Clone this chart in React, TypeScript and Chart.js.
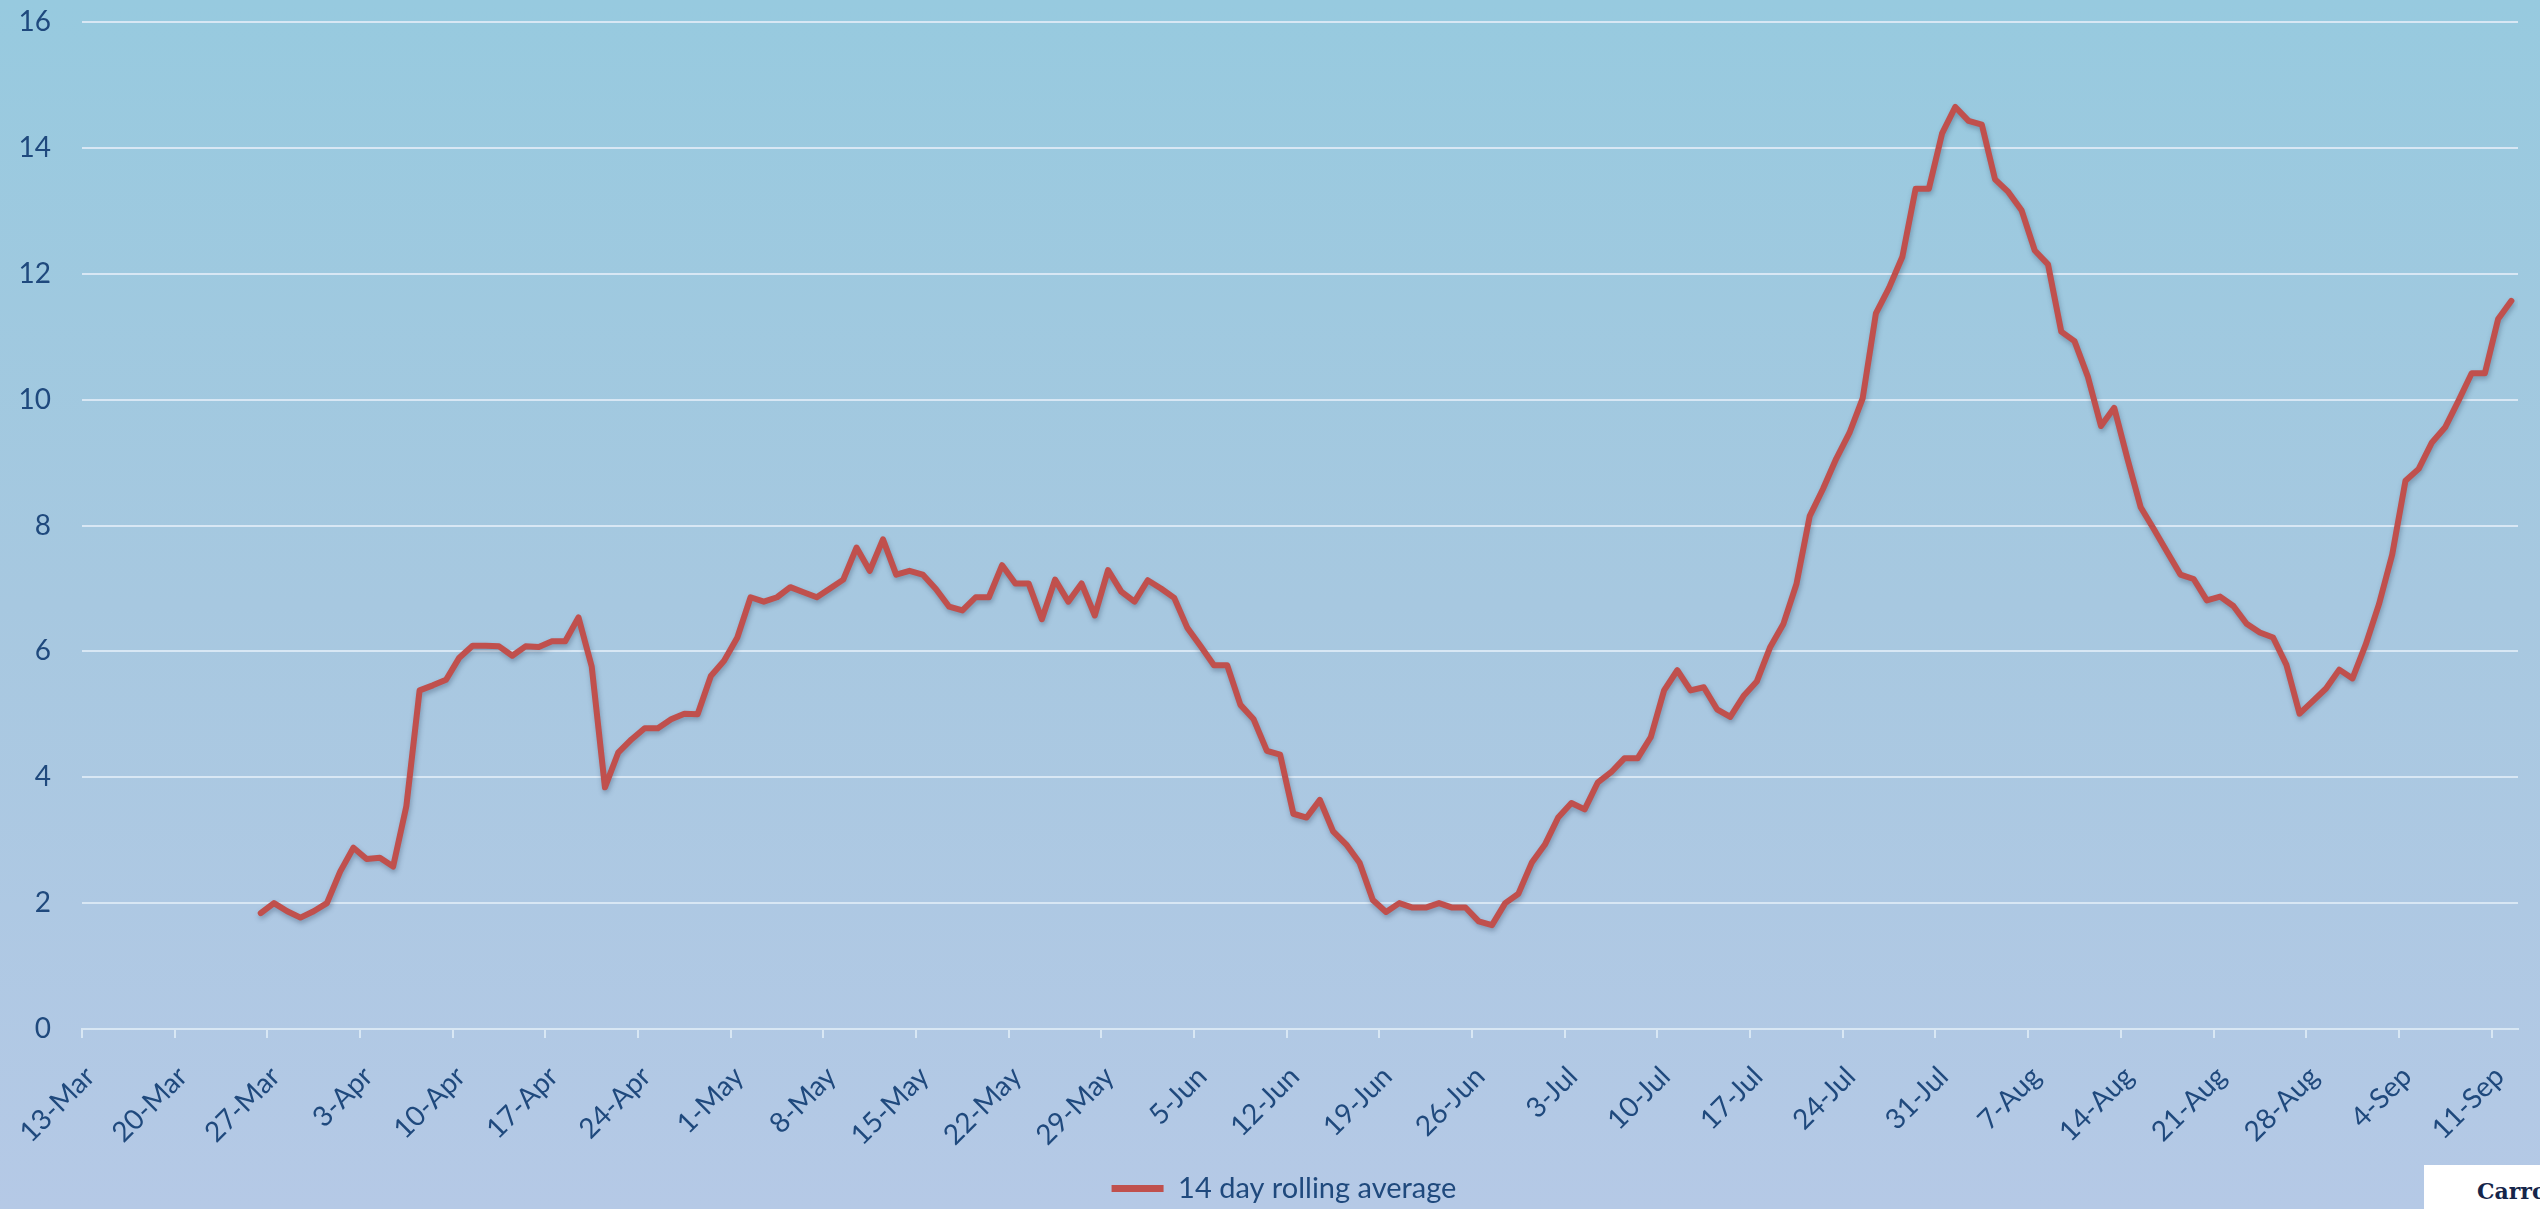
import React, { useEffect, useRef } from "react";
import { Chart, registerables } from "chart.js";

Chart.register(...registerables);

// Tick labels on the date axis (one every 7 days, starting 13-Mar)
const tickLabels = [
  "13-Mar", "20-Mar", "27-Mar", "3-Apr", "10-Apr", "17-Apr", "24-Apr",
  "1-May", "8-May", "15-May", "22-May", "29-May", "5-Jun", "12-Jun",
  "19-Jun", "26-Jun", "3-Jul", "10-Jul", "17-Jul", "24-Jul", "31-Jul",
  "7-Aug", "14-Aug", "21-Aug", "28-Aug", "4-Sep", "11-Sep",
];

// Days since 13-Mar of the first value (26-Mar) and axis end (13-Sep)
const firstDay = 13;
const axisEndDay = 184;

// 14 day rolling average, daily from 26-Mar to 12-Sep
const rollingAverage = [
  1.84, 2.0, 1.87, 1.77, 1.87, 2.0, 2.5, 2.88, 2.7, 2.72,
  2.58, 3.54, 5.38, 5.46, 5.55, 5.9, 6.09, 6.09, 6.08, 5.93,
  6.08, 6.07, 6.16, 6.16, 6.54, 5.76, 3.84, 4.39, 4.6, 4.78,
  4.78, 4.92, 5.01, 5.0, 5.61, 5.85, 6.22, 6.86, 6.79, 6.86,
  7.02, 6.94, 6.86, 7.0, 7.14, 7.65, 7.28, 7.78, 7.22, 7.28,
  7.22, 6.99, 6.71, 6.65, 6.86, 6.86, 7.37, 7.08, 7.08, 6.51,
  7.14, 6.79, 7.08, 6.57, 7.29, 6.95, 6.79, 7.13, 7.0, 6.85,
  6.37, 6.08, 5.78, 5.78, 5.15, 4.92, 4.42, 4.36, 3.42, 3.36,
  3.64, 3.14, 2.93, 2.64, 2.05, 1.86, 2.0, 1.93, 1.93, 2.0,
  1.93, 1.93, 1.71, 1.65, 2.0, 2.15, 2.64, 2.93, 3.36, 3.59,
  3.49, 3.92, 4.08, 4.3, 4.3, 4.64, 5.38, 5.7, 5.38, 5.43,
  5.08, 4.96, 5.29, 5.52, 6.06, 6.43, 7.07, 8.15, 8.58, 9.06,
  9.47, 10.02, 11.37, 11.78, 12.27, 13.35, 13.35, 14.23, 14.65, 14.43,
  14.37, 13.5, 13.3, 13.01, 12.37, 12.15, 11.08, 10.93, 10.37, 9.58,
  9.87, 9.06, 8.29, 7.94, 7.58, 7.22, 7.15, 6.81, 6.87, 6.72,
  6.44, 6.3, 6.22, 5.79, 5.01, 5.21, 5.41, 5.71, 5.57, 6.11,
  6.75, 7.54, 8.71, 8.9, 9.32, 9.56, 9.98, 10.42, 10.42, 11.28,
  11.57,
];

const seriesLabel = "14 day rolling average";
const yTicks = [0, 2, 4, 6, 8, 10, 12, 14, 16];

const LINE_RED = "#c0504d";
const TEXT_BLUE = "#1f497d";
const GRID = "#d8e7f4";
const FONT = "Lato, 'Liberation Sans', sans-serif";

const shadowPlugin = {
  id: "lineShadow",
  beforeDatasetsDraw(chart: any) {
    const ctx = chart.ctx;
    ctx.save();
    ctx.shadowColor = "rgba(40,60,90,0.35)";
    ctx.shadowBlur = 5;
    ctx.shadowOffsetX = 1;
    ctx.shadowOffsetY = 3;
  },
  afterDatasetsDraw(chart: any) {
    chart.ctx.restore();
  },
};

// nudges the legend slightly right, as in the original
const legendShiftPlugin = {
  id: "legendShift",
  afterLayout(chart: any) {
    const lg = chart.legend;
    if (lg) {
      lg.left += 15;
      lg.right += 15;
    }
  },
};

export default function App() {
  const canvasRef = useRef<HTMLCanvasElement | null>(null);

  useEffect(() => {
    const canvas = canvasRef.current;
    if (!canvas) return;
    const points = rollingAverage.map((v, i) => ({ x: firstDay + i + 0.5, y: v }));
    const chart = new Chart(canvas, {
      type: "line",
      data: {
        datasets: [
          {
            label: seriesLabel,
            data: points,
            borderColor: LINE_RED,
            backgroundColor: LINE_RED,
            borderWidth: 6,
            pointRadius: 0,
            tension: 0,
            borderJoinStyle: "round",
            borderCapStyle: "round",
          },
        ],
      },
      options: {
        animation: false,
        responsive: true,
        maintainAspectRatio: false,
        layout: { padding: { left: 20, right: 22, top: 22, bottom: -4 } },
        scales: {
          x: {
            type: "linear",
            min: 0,
            max: axisEndDay,
            afterBuildTicks: (scale: any) => {
              scale.ticks = tickLabels.map((_, i) => ({ value: i * 7 }));
            },
            afterFit: (scale: any) => {
              scale.height = 143;
              scale.paddingLeft = 0;
              scale.paddingRight = 0;
            },
            ticks: {
              autoSkip: false,
              maxRotation: 45,
              minRotation: 45,
              padding: 22,
              labelOffset: 8,
              color: TEXT_BLUE,
              font: { family: FONT, size: 28 },
              callback: (value: any) => tickLabels[Math.round(Number(value) / 7)],
            },
            grid: {
              drawOnChartArea: false,
              drawTicks: true,
              tickLength: 9,
              color: GRID,
              lineWidth: 2,
            },
            border: { display: true, color: GRID, width: 2 },
          },
          y: {
            min: 0,
            max: 16,
            afterBuildTicks: (scale: any) => {
              scale.ticks = yTicks.map((v) => ({ value: v }));
            },
            afterFit: (scale: any) => {
              scale.width = 62;
              scale.paddingTop = 0;
              scale.paddingBottom = 0;
            },
            ticks: {
              padding: 31,
              color: TEXT_BLUE,
              font: { family: FONT, size: 28 },
            },
            grid: { drawTicks: false, color: GRID, lineWidth: 2 },
            border: { display: false },
          },
        },
        plugins: {
          tooltip: { enabled: false },
          legend: {
            display: true,
            position: "bottom",
            labels: {
              boxWidth: 52,
              boxHeight: 7,
              padding: 2,
              color: TEXT_BLUE,
              font: { family: FONT, size: 29 },
              generateLabels: () => [
                {
                  text: seriesLabel,
                  fillStyle: LINE_RED,
                  strokeStyle: LINE_RED,
                  lineWidth: 0,
                  hidden: false,
                  datasetIndex: 0,
                  fontColor: TEXT_BLUE,
                },
              ],
            },
          },
        },
      },
      plugins: [shadowPlugin, legendShiftPlugin],
    } as any);
    return () => chart.destroy();
  }, []);

  return (
    <div
      style={{
        position: "fixed",
        left: 0,
        top: 0,
        width: 2540,
        height: 1209,
        background: "linear-gradient(to bottom, #97cadf 0%, #a7c8e0 50%, #b5c9e6 100%)",
        overflow: "hidden",
      }}
    >
      <canvas ref={canvasRef} style={{ position: "absolute", left: 0, top: 0, width: 2540, height: 1209 }} />
      <div
        style={{
          position: "absolute",
          left: 2424,
          top: 1165,
          width: 116,
          height: 44,
          background: "#ffffff",
          overflow: "hidden",
        }}
      >
        <span
          style={{
            position: "absolute",
            left: 53,
            top: 14,
            fontFamily: "'DejaVu Serif', 'Liberation Serif', serif",
            fontWeight: 700,
            fontSize: 22,
            lineHeight: "24px",
            color: "#15254a",
            whiteSpace: "nowrap",
          }}
        >
          Carro
        </span>
      </div>
    </div>
  );
}
